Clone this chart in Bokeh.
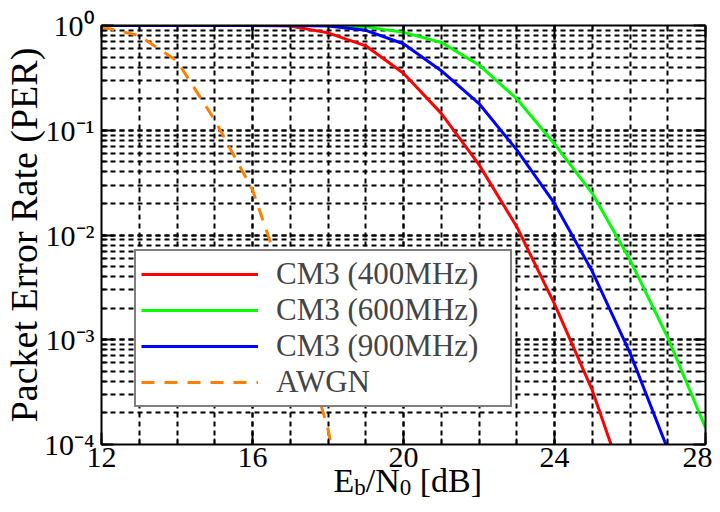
import numpy as np
from bokeh.plotting import figure
from bokeh.layouts import column
from bokeh.core.properties import value
from bokeh.models import (LogAxis, LinearAxis, LogTicker, SingleIntervalTicker,
                          Legend, LegendItem, CustomJSTickFormatter, Range1d)
from bokeh.embed import file_html
from bokeh.resources import INLINE

# ---------------- data ----------------
x_cm3_400 = [12, 13, 14, 15, 16, 17, 18, 19, 20, 21, 22, 23, 24, 25, 26]
per_cm3_400 = [1.0, 1.0, 1.0, 1.0, 1.0, 0.99, 0.85, 0.64, 0.35, 0.145, 0.047, 0.012, 2.2e-3, 3.3e-4, 3.0e-5]

x_cm3_600 = [12, 13, 14, 15, 16, 17, 18, 19, 20, 21, 22, 23, 24, 25, 26, 27, 28]
per_cm3_600 = [1.0, 1.0, 1.0, 1.0, 1.0, 1.0, 1.0, 0.97, 0.86, 0.69, 0.42, 0.20, 0.074, 0.025, 5.8e-3, 1.05e-3, 1.45e-4]

x_cm3_900 = [12, 13, 14, 15, 16, 17, 18, 19, 20, 21, 22, 23, 24, 25, 26, 27]
per_cm3_900 = [1.0, 1.0, 1.0, 1.0, 1.0, 1.0, 0.99, 0.90, 0.67, 0.37, 0.18, 0.065, 0.020, 4.5e-3, 7.5e-4, 9.0e-5]

x_awgn = [12, 13, 14, 15, 16, 17, 18, 19]
per_awgn = [0.97, 0.80, 0.46, 0.125, 0.027, 2.4e-3, 1.4e-4, 2.0e-6]

series_names = ["CM3 (400MHz)", "CM3 (600MHz)", "CM3 (900MHz)", "AWGN"]
x_ticks = [12, 16, 20, 24, 28]
y_tick_vals = [1.0, 0.1, 0.01, 0.001, 0.0001]
y_tick_labels = ["10\u2070", "10\u207b\u00b9", "10\u207b\u00b2", "10\u207b\u00b3", "10\u207b\u2074"]
y_title = "Packet Error Rate (PER)"
# x title pieces: (text, is_subscript, gap before in em)
x_title_parts = [("E", False, 0.0), ("b", True, 0.0), ("/N", False, 0.0), ("0", True, 0.0), ("[dB]", False, 0.25)]

FONT = "Liberation Serif"
W, H = 712, 504
F_LEFT, F_RIGHT, F_TOP, F_BOTTOM = 100, 705, 25, 444

p = figure(width=W, height=H, output_backend="svg", toolbar_location=None,
           y_axis_type="log", x_range=(12, 28), y_range=(1e-4, 1),
           min_border_left=F_LEFT, min_border_right=W - F_RIGHT,
           min_border_top=F_TOP, min_border_bottom=H - F_BOTTOM,
           background_fill_color="white", border_fill_color="white")
p.outline_line_color = None

# lines
r400 = p.line(x_cm3_400, per_cm3_400, line_color="#ff0000", line_width=3)
r600 = p.line(x_cm3_600, per_cm3_600, line_color="#00ff00", line_width=3)
r900 = p.line(x_cm3_900, per_cm3_900, line_color="#0000ff", line_width=3)
rawgn = p.line(x_awgn, per_awgn, line_color="#ff8000", line_width=3, line_dash="13 10")

# axes
p.xaxis.ticker = SingleIntervalTicker(interval=4, num_minor_ticks=4)
p.xaxis.major_label_overrides = {v: str(v) for v in x_ticks}
p.yaxis.ticker = LogTicker(mantissas=[1], desired_num_ticks=5, num_minor_ticks=10)
p.yaxis.major_label_overrides = dict(zip(y_tick_vals, y_tick_labels))

for ax in list(p.xaxis) + list(p.yaxis):
    ax.axis_line_width = 2
    ax.axis_line_color = "black"
    ax.major_tick_in = 12
    ax.major_tick_out = 0
    ax.minor_tick_in = 6
    ax.minor_tick_out = 0
    ax.major_tick_line_width = 2
    ax.minor_tick_line_width = 1.5
    ax.major_label_text_font = FONT
    ax.major_label_text_font_size = "30px"
    ax.major_label_text_color = "black"
p.xaxis.axis_label = None
p.yaxis.major_label_standoff = 7
p.xaxis.major_label_standoff = 3
p.yaxis.axis_label = y_title
p.yaxis.axis_label_text_font = FONT
p.yaxis.axis_label_text_font_size = "38px"
p.yaxis.axis_label_text_font_style = "normal"
p.yaxis.axis_label_text_color = "black"
p.yaxis.axis_label_standoff = -4

# box axes (top / right) without labels
blank = CustomJSTickFormatter(code="return ''")
top = LinearAxis(ticker=SingleIntervalTicker(interval=4, num_minor_ticks=4), formatter=blank)
right = LogAxis(ticker=LogTicker(mantissas=[1], desired_num_ticks=5, num_minor_ticks=10), formatter=blank)
for ax in (top, right):
    ax.axis_line_width = 2
    ax.major_tick_in = 12
    ax.major_tick_out = 0
    ax.minor_tick_in = 6
    ax.minor_tick_out = 0
    ax.major_tick_line_width = 2
    ax.minor_tick_line_width = 1.5
    ax.major_label_standoff = 0
    ax.major_label_text_font_size = "1px"
p.add_layout(top, "above")
p.add_layout(right, "right")

# grids
for g in (p.xgrid, p.ygrid):
    g.grid_line_color = "black"
    g.grid_line_dash = "5 4"
    g.grid_line_width = 2
    g.grid_line_alpha = 1
    g.minor_grid_line_color = "black"
    g.minor_grid_line_dash = "5 4"
    g.minor_grid_line_width = 2

legend = Legend(items=[LegendItem(label=n, renderers=[r]) for n, r in
                       zip(series_names, [r400, r600, r900, rawgn])],
                location=(33, 37))
legend.label_text_font = FONT
legend.label_text_font_size = "31px"
legend.glyph_width = 117
legend.glyph_height = 30
legend.label_standoff = 18
legend.label_width = 229
legend.padding = 5
legend.spacing = 0
legend.margin = 0
legend.border_line_color = "black"
legend.border_line_width = 2
legend.background_fill_alpha = 1
p.add_layout(legend, "center")

# ---- transparent overlay carrying the x title (page-pixel coordinates) ----
ov = figure(width=W, height=H, output_backend="svg", toolbar_location=None,
            x_range=Range1d(F_LEFT, F_RIGHT), y_range=Range1d(H, 0),
            min_border_left=F_LEFT, min_border_right=W - F_RIGHT,
            min_border_top=0, min_border_bottom=0,
            x_axis_location=None, y_axis_location=None,
            background_fill_alpha=0, border_fill_alpha=0)
ov.outline_line_color = None
ov.xgrid.visible = False
ov.ygrid.visible = False
ov.margin = (-H, 0, 0, 0)

big, small = 34, 23
em = {"E": 0.611, "b": 0.5, "/N": 1.0, "0": 0.5, "[dB]": 1.583}
total = sum((em[t] + gap) * (small if sub else big) for t, sub, gap in x_title_parts)
sx = (F_LEFT + F_RIGHT) / 2 - total / 2
bx, by, bt, sxs, sys_, st = [], [], [], [], [], []
for t, sub, gap in x_title_parts:
    s = small if sub else big
    sx += gap * s
    if sub:
        sxs.append(sx); sys_.append(487); st.append(t)
    else:
        bx.append(sx); by.append(480); bt.append(t)
    sx += em[t] * s
ov.text(x=bx, y=by, text=bt, text_font=value(FONT), text_font_size="34px",
        text_color="black", text_align="left", text_baseline="alphabetic")
ov.text(x=sxs, y=sys_, text=st, text_font=value(FONT), text_font_size="23px",
        text_color="black", text_align="left", text_baseline="alphabetic")

layout = column(p, ov, spacing=0)
open("out.html", "w").write(file_html(layout, INLINE))
